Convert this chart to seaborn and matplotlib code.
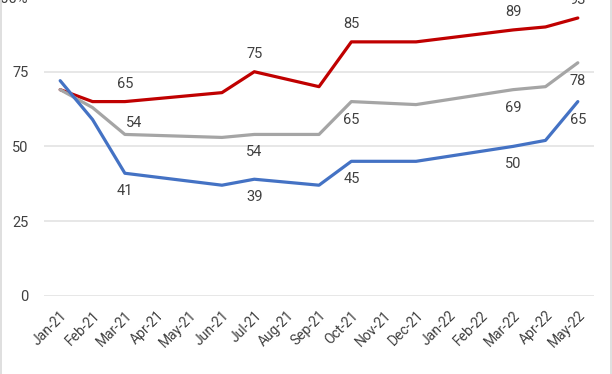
import numpy as np
import pandas as pd
import matplotlib
matplotlib.use("Agg")
import matplotlib.pyplot as plt
from matplotlib.lines import Line2D
from matplotlib.ticker import FuncFormatter
import seaborn as sns

# данные
months = ["Jan-21", "Feb-21", "Mar-21", "Apr-21", "May-21", "Jun-21", "Jul-21",
          "Aug-21", "Sep-21", "Oct-21", "Nov-21", "Dec-21", "Jan-22", "Feb-22",
          "Mar-22", "Apr-22", "May-22"]
point_months = ["Jan-21", "Feb-21", "Mar-21", "Jun-21", "Jul-21", "Sep-21",
                "Oct-21", "Dec-21", "Mar-22", "Apr-22", "May-22"]
red_vals = [69, 65, 65, 68, 75, 70, 85, 85, 89, 90, 93]
gray_vals = [69, 63, 54, 53, 54, 54, 65, 64, 69, 70, 78]
blue_vals = [72, 59, 41, 37, 39, 37, 45, 45, 50, 52, 65]
label_months = ["Mar-21", "Jul-21", "Oct-21", "Mar-22", "May-22"]

series = {"red": red_vals, "gray": gray_vals, "blue": blue_vals}
colors = {"red": "#C00000", "gray": "#A5A5A5", "blue": "#4472C4"}

rows = []
for name, vals in series.items():
    for m, v in zip(point_months, vals):
        rows.append({"series": name, "month": m, "x": months.index(m), "value": v})
df = pd.DataFrame(rows)

sns.set_theme(style="whitegrid")
plt.rcParams['font.family'] = ['Roboto', 'DejaVu Sans']

fig = plt.figure(figsize=(6.12, 3.74), dpi=100)
fig.patch.set_facecolor("white")
ax = fig.add_axes([44 / 612, 0.2094, 550 / 612, 0.7984])

sns.lineplot(data=df, x="x", y="value", hue="series", palette=colors,
             linewidth=2.3, legend=False, ax=ax, sort=True)

# подписи значений
txt_color = "#404040"
for name, vals in series.items():
    for m, v in zip(point_months, vals):
        if m not in label_months:
            continue
        xi = months.index(m)
        if name == "red":
            off = (0, 13)
        elif name == "gray" and m == "Mar-21":
            off = (7, 8)
        else:
            off = (0, -13)
        ax.annotate(str(v), (xi, v), xytext=off, textcoords="offset points",
                    ha="center", va="center", fontsize=10.5, color=txt_color)

ax.set_xlim(-0.5, 16.5)
ax.set_ylim(0, 100)
ax.set_yticks([0, 25, 50, 75, 100])
ax.yaxis.set_major_formatter(FuncFormatter(lambda v, p: "100%" if v == 100 else f"{v:.0f}"))
ax.set_xticks(range(len(months)))
ax.set_xticklabels(months, rotation=45, ha="right", rotation_mode="anchor")
ax.tick_params(axis="x", labelsize=10, colors=txt_color, pad=9, length=0)
ax.tick_params(axis="y", labelsize=10.5, colors=txt_color, pad=11, length=0)
ax.set_xlabel("")
ax.set_ylabel("")
ax.grid(axis="x", visible=False)
ax.grid(axis="y", color="#E3E3E3", linewidth=1.2)
for s in ax.spines.values():
    s.set_visible(False)
ax.set_facecolor("white")

# рамка слева и справа
fig.add_artist(Line2D([0.0015, 0.0015], [0, 1], color="#D9D9D9", linewidth=1.2,
                      transform=fig.transFigure))
fig.add_artist(Line2D([0.998, 0.998], [0, 1], color="#D9D9D9", linewidth=1.2,
                      transform=fig.transFigure))

plt.savefig("out.png", dpi=100)
